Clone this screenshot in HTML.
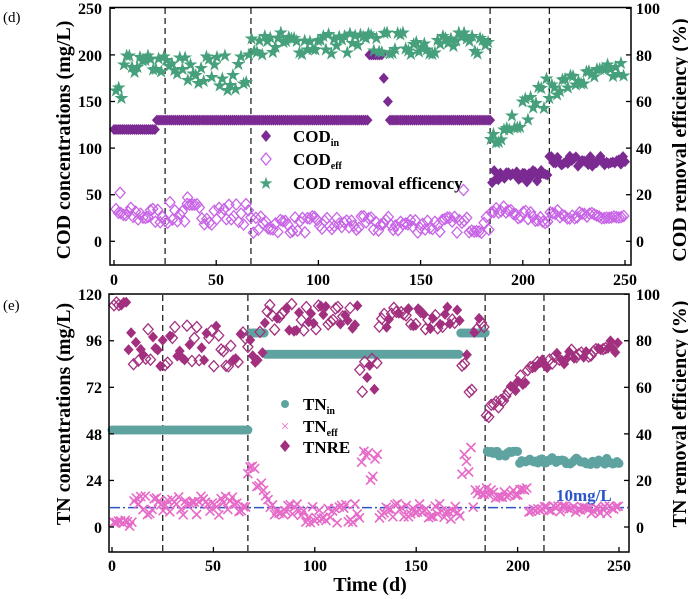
<!DOCTYPE html>
<html><head><meta charset="utf-8">
<style>
html,body{margin:0;padding:0;background:#fff;}
svg{display:block;font-family:"Liberation Serif",serif;}
.t{font-size:16px;font-weight:bold;}
.lab{font-size:20px;font-weight:bold;}
.lg{font-size:17px;font-weight:bold;}
</style></head>
<body>
<svg id="s" width="688" height="599" viewBox="0 0 688 599" xmlns="http://www.w3.org/2000/svg">
<text x="3" y="22" font-size="15">(d)</text>
<text x="3" y="310" font-size="15">(e)</text>
<g id="data"></g>
<rect x="110" y="7.5" width="521" height="257.5" fill="none" stroke="#000" stroke-width="1.5"/>
<rect x="109" y="294" width="520" height="258" fill="none" stroke="#000" stroke-width="1.5"/>
<g class="t" text-anchor="end">
<text x="102" y="14">250</text><text x="102" y="61">200</text><text x="102" y="107">150</text><text x="102" y="154">100</text><text x="102" y="200">50</text><text x="102" y="247">0</text>
</g>
<g class="t" text-anchor="end">
<text x="102" y="300">120</text><text x="102" y="346">96</text><text x="102" y="393">72</text><text x="102" y="440">48</text><text x="102" y="486">24</text><text x="102" y="533">0</text>
</g>
<g class="t" text-anchor="start">
<text x="636" y="14">100</text><text x="636" y="61">80</text><text x="636" y="107">60</text><text x="636" y="154">40</text><text x="636" y="200">20</text><text x="636" y="247">0</text>
<text x="636" y="300">100</text><text x="636" y="346">80</text><text x="636" y="393">60</text><text x="636" y="440">40</text><text x="636" y="486">20</text><text x="636" y="533">0</text>
</g>
<g class="t" text-anchor="middle">
<text x="114" y="285">0</text><text x="216" y="285">50</text><text x="318" y="285">100</text><text x="421" y="285">150</text><text x="523" y="285">200</text><text x="625" y="285">250</text>
<text x="112" y="571">0</text><text x="213" y="571">50</text><text x="315" y="571">100</text><text x="416" y="571">150</text><text x="518" y="571">200</text><text x="619" y="571">250</text>
</g>
<g id="ticks"></g>
<text class="lab" text-anchor="middle" transform="translate(70,140) rotate(-90)">COD concentrations (mg/L)</text>
<text class="lab" text-anchor="middle" transform="translate(686,140) rotate(-90)">COD removal efficiency (%)</text>
<text class="lab" text-anchor="middle" transform="translate(70,414) rotate(-90)">TN concentrations (mg/L)</text>
<text class="lab" text-anchor="middle" transform="translate(686,414) rotate(-90)">TN removal efficiency (%)</text>
<text class="lab" text-anchor="middle" x="370" y="591">Time (d)</text>
<text x="556" y="501" font-size="17" font-weight="bold" fill="#2b55c8">10mg/L</text>
<path d="M266 130 l5 6 l-5 6 l-5 -6z" fill="#7b2a92"/>
<text class="lg" x="293" y="142">COD<tspan font-size="10" dy="4">in</tspan></text>
<path d="M266 153 l5 6 l-5 6 l-5 -6z" fill="none" stroke="#c864e6" stroke-width="1.3"/>
<text class="lg" x="293" y="165">COD<tspan font-size="10" dy="4">eff</tspan></text>
<text x="266" y="189" font-size="17" fill="#4aa37f" text-anchor="middle">★</text>
<text class="lg" x="293" y="189">COD removal efficency</text>
<circle cx="285" cy="404" r="4" fill="#5fa3a1"/>
<text class="lg" x="303" y="410">TN<tspan font-size="10" dy="4">in</tspan></text>
<text x="285" y="431" font-size="15" fill="#e66ac8" text-anchor="middle">×</text>
<text class="lg" x="303" y="432">TN<tspan font-size="10" dy="4">eff</tspan></text>
<path d="M285 440 l5 6 l-5 6 l-5 -6z" fill="#a2307f"/>
<text class="lg" x="303" y="453">TNRE</text>
</svg>
<script>
(function(){
var g=document.getElementById('data');var h='';
var seed=7;function r(){seed=(seed*16807)%2147483647;return seed/2147483647;}
function n(a){return (r()*2-1)*a;}
function X1(t){return 114+2.044*t;}function Y1(v){return 241.3-0.932*v;}
function X2(t){return 112+2.028*t;}function Y2(v){return 527-1.94*v;}
var tk='';
[0,50,100,150,200,250].forEach(function(t){tk+='<line x1="'+X1(t)+'" y1="265" x2="'+X1(t)+'" y2="260" stroke="#000" stroke-width="1.3"/><line x1="'+X2(t)+'" y1="552" x2="'+X2(t)+'" y2="547" stroke="#000" stroke-width="1.3"/>';});
[0,50,100,150,200,250].forEach(function(v){var y=Y1(v);tk+='<line x1="110" y1="'+y+'" x2="115" y2="'+y+'" stroke="#000" stroke-width="1.3"/><line x1="631" y1="'+y+'" x2="626" y2="'+y+'" stroke="#000" stroke-width="1.3"/>';});
[0,24,48,72,96,120].forEach(function(v){var y=Y2(v);tk+='<line x1="109" y1="'+y+'" x2="114" y2="'+y+'" stroke="#000" stroke-width="1.3"/><line x1="629" y1="'+y+'" x2="624" y2="'+y+'" stroke="#000" stroke-width="1.3"/>';});
document.getElementById('ticks').innerHTML=tk;
[25,67,184,213].forEach(function(t){
 h+='<line x1="'+X1(t)+'" y1="8" x2="'+X1(t)+'" y2="264" stroke="#222" stroke-width="1.3" stroke-dasharray="6,4"/>';
 h+='<line x1="'+X2(t)+'" y1="295" x2="'+X2(t)+'" y2="551" stroke="#222" stroke-width="1.3" stroke-dasharray="6,4"/>';
});
function dia(x,y,f,s){return '<path d="M'+x.toFixed(1)+' '+(y-5.5).toFixed(1)+'l5 5.5l-5 5.5l-5 -5.5z" '+(f?'fill="'+f+'"':'fill="none" stroke="'+s+'" stroke-width="1.3"')+'/>';}
function star(x,y){return '<text x="'+x.toFixed(1)+'" y="'+(y+6).toFixed(1)+'" font-size="18" fill="#46a07c" text-anchor="middle">★</text>';}
for(var t=0;t<=250;t+=1){
 var ci;
 if(t<=20)ci=120;else if(t<=124)ci=130;else if(t<=131)ci=200;else if(t==132)ci=175;else if(t==134)ci=150;else if(t<135)ci=null;else if(t<=184)ci=130;
 else if(t<=212)ci=70+n(7);else ci=86+n(6);
 if(ci!==null)h+=dia(X1(t),Y1(ci),'#7b2a92');
}
for(var t=1;t<=250;t+=1.2){
 var ce;
 if(t<25)ce=28+n(9);else if(t<67)ce=30+n(12);else if(t<184)ce=18+n(9);else if(t<213)ce=35-((t-184)/29)*12+n(5);else ce=30-((t-213)/37)*6+n(4);
 h+=dia(X1(t),Y1(ce),null,'#c864e6');
}
h+=dia(X1(3),Y1(52),null,'#c864e6')+dia(X1(36),Y1(47),null,'#c864e6')+dia(X1(171),Y1(55),null,'#c864e6');
for(var t=1;t<=250;t+=1.3){
 var e;
 if(t<4)e=62+n(4);else if(t<25)e=76+n(4);else if(t<67)e=73+n(8);else if(t<184)e=85+n(5);
 else if(t<213)e=45+((t-184)/29)*20+n(6);else e=66+((t-213)/37)*8+n(4);
 h+=star(X1(t),Y1(e*2.5));
}
h+='<line x1="110" y1="'+Y2(10)+'" x2="628" y2="'+Y2(10)+'" stroke="#2b55c8" stroke-width="1.5" stroke-dasharray="10,3,2,3"/>';
for(var t=0;t<=250;t+=1){
 var ti;
 if(t<=67)ti=50;else if(t<=75)ti=100;else if(t<=171)ti=89;else if(t<=184)ti=100;else if(t<=200)ti=38+n(1.5);else ti=34+n(2);
 h+='<circle cx="'+X2(t).toFixed(1)+'" cy="'+Y2(ti).toFixed(1)+'" r="4.5" fill="#5fa3a1"/>';
}
for(var t=1;t<=250;t+=1.1){
 var te;
 if(t<10)te=2+n(2);else if(t<67)te=11+n(5);else if(t<80)te=32-(t-67)*1.6+n(5);else if(t<122)te=7+n(5);
 else if(t<131)te=33+n(9);else if(t<172)te=8+n(4);else if(t<178)te=35+n(9);else if(t<184)te=15+n(5);
 else if(t<205)te=18+n(3);else te=9+n(2);
 var x=X2(t),y=Y2(te);
 h+='<path d="M'+(x-4.5).toFixed(1)+' '+(y-4.5).toFixed(1)+'l9 9m0 -9l-9 9" stroke="#e66ac8" stroke-width="1.6"/>';
}
for(var t=1;t<=250;t+=1.2){
 var re,f=r()<0.5?'#a2307f':null;
 if(t<8)re=97+n(2);else if(t<67)re=78+n(9);else if(t<80)re=72+(t-67)*1.5+n(8);else if(t<122)re=90+n(6);
 else if(t<131)re=65+n(8);else if(t<172)re=90+n(5);else if(t<178)re=67+n(9);else if(t<184)re=85+n(5);
 else re=46+34*(1-Math.exp(-(t-184)/25))+n(3);
 h+=dia(X2(t),Y2(re*1.2),f,'#a2307f');
}
g.innerHTML=h;
})();
</script>
</body></html>
